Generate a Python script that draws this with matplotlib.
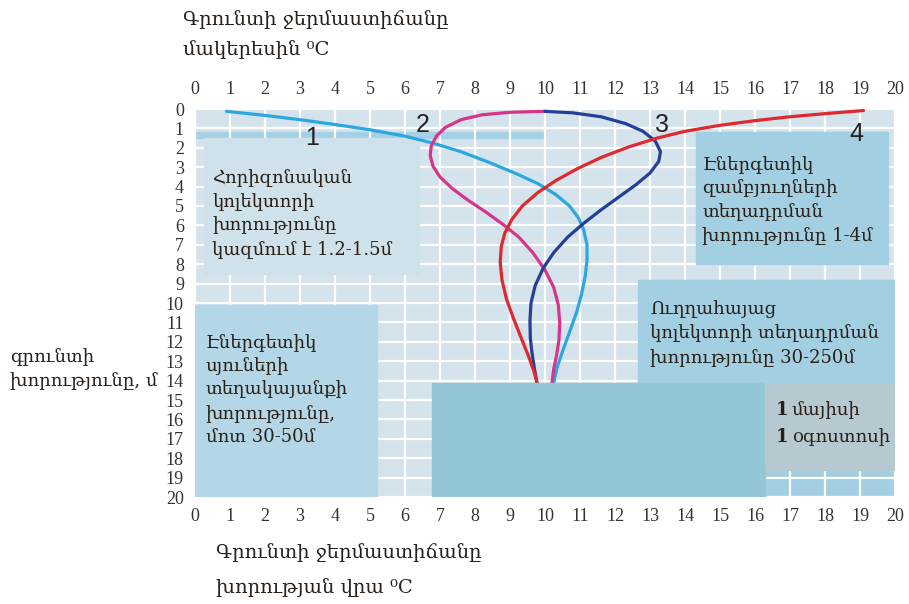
import matplotlib
matplotlib.use("Agg")
import matplotlib.pyplot as plt
from matplotlib.patches import Rectangle

# --- données (température en °C, profondeur en m) ---
x_may = [0.9, 2.0, 3.0, 4.0, 5.0, 6.0, 6.8, 7.6, 8.4, 9.2, 9.8, 10.3, 10.7, 10.95,
         11.1, 11.2, 11.2, 11.15, 11.05, 10.9, 10.7, 10.5, 10.35, 10.25]
y_may = [0.12, 0.33, 0.55, 0.8, 1.07, 1.4, 1.76, 2.2, 2.75, 3.35, 3.85, 4.4, 5.0, 5.6,
         6.2, 7.0, 7.8, 8.6, 9.5, 10.5, 11.5, 12.5, 13.3, 14.1]

x_jun = [10.0, 9.0, 8.2, 7.6, 7.15, 6.9, 6.75, 6.72, 6.8, 7.0, 7.35, 7.8, 8.3, 8.8,
         9.25, 9.65, 10.0, 10.25, 10.38, 10.42, 10.4, 10.33, 10.25, 10.2]
y_jun = [0.12, 0.17, 0.3, 0.55, 0.95, 1.4, 1.9, 2.4, 2.95, 3.5, 4.1, 4.7, 5.3, 5.95,
         6.6, 7.4, 8.3, 9.2, 10.1, 11.0, 11.9, 12.7, 13.4, 14.1]

x_jul = [10.0, 10.8, 11.6, 12.3, 12.8, 13.15, 13.3, 13.25, 13.0, 12.6, 12.1, 11.6,
         11.1, 10.65, 10.25, 9.95, 9.72, 9.6, 9.57, 9.58, 9.63, 9.7, 9.77]
y_jul = [0.12, 0.2, 0.4, 0.75, 1.15, 1.65, 2.2, 2.7, 3.3, 3.9, 4.55, 5.2,
         5.9, 6.6, 7.4, 8.2, 9.1, 10.0, 10.9, 11.8, 12.6, 13.4, 14.1]

x_aug = [19.1, 18.0, 17.0, 16.0, 15.0, 14.0, 13.2, 12.4, 11.6, 10.9, 10.3, 9.8, 9.35,
         9.05, 8.85, 8.75, 8.72, 8.77, 8.9, 9.1, 9.32, 9.52, 9.68, 9.77]
y_aug = [0.08, 0.24, 0.4, 0.6, 0.84, 1.15, 1.5, 1.95, 2.5, 3.1, 3.7, 4.3, 5.0,
         5.7, 6.4, 7.1, 7.9, 8.8, 9.8, 10.8, 11.8, 12.7, 13.5, 14.1]

courbes = [(x_may, y_may, '#2aa8df', '1'),
           (x_jun, y_jun, '#d8348b', '2'),
           (x_jul, y_jul, '#233f97', '3'),
           (x_aug, y_aug, '#e0292e', '4')]

ticks = list(range(0, 21))

plt.rcParams['font.family'] = ['Liberation Serif', 'DejaVu Serif']
ARM = ['DejaVu Serif', 'DejaVu Sans']
TXT = '#2a2018'
FS = 13

fig = plt.figure(figsize=(9.09, 6.04), dpi=100)
ax = fig.add_axes([195 / 909, 1 - 497 / 604, 700 / 909, 388 / 604])
ax.set_xlim(0, 20)
ax.set_ylim(20, 0)
ax.set_facecolor('#d5e4ec')
ax.set_axisbelow(True)
ax.grid(True, color='white', linewidth=1.6)
for s in ax.spines.values():
    s.set_visible(False)

ax.set_xticks(ticks)
ax.set_yticks(ticks)
ax.tick_params(length=0, labelsize=13, colors='#333333', top=True, labeltop=True, pad=8)
ax.tick_params(axis='x', which='both', pad=8)

# bandes / cadres (sous la grille)
ax.add_patch(Rectangle((0, 1.2), 10, 0.32, color='#a6d0e4', zorder=0.3))
ax.add_patch(Rectangle((16.3, 18.6), 3.7, 1.4, color='#a4cfe2', zorder=0.3))

# cadres de texte (au-dessus de la grille)
ax.add_patch(Rectangle((0.25, 1.52), 6.15, 7.0, color='#cfe1ea', zorder=1))
ax.add_patch(Rectangle((14.3, 1.2), 5.5, 6.8, color='#a3cfe2', zorder=1))
ax.add_patch(Rectangle((12.66, 8.8), 7.34, 5.3, color='#a3cfe2', zorder=1))
ax.add_patch(Rectangle((0, 10.1), 5.2, 9.9, color='#b4d7e7', zorder=1))
ax.add_patch(Rectangle((6.77, 14.1), 9.53, 5.9, color='#93c7d5', zorder=4))
ax.add_patch(Rectangle((16.3, 14.1), 3.7, 4.5, color='#b6c8d0', zorder=4))

for x, y, c, lab in courbes:
    ax.plot(x, y, color=c, linewidth=2.3, zorder=3, solid_capstyle='round',
            solid_joinstyle='round')

# numéros des courbes
for lab, (tx, ty) in zip('1234', [(3.34, 1.5), (6.5, 0.82), (13.35, 0.82), (18.9, 1.3)]):
    ax.text(tx, ty, lab, fontsize=18, family='Liberation Sans', color='#222222',
            ha='center', va='center', zorder=5)

# textes des cadres
ax.text(0.5, 5.39, 'Հորիզոնական\nկոլեկտորի\nխորությունը\nկազմում է 1.2-1.5մ', family=ARM,
        fontsize=FS, color=TXT, va='center', ha='left', linespacing=1.4, zorder=5)
ax.text(14.5, 4.69, 'Էներգետիկ\nզամբյուղների\nտեղադրման\nխորությունը 1-4մ', family=ARM,
        fontsize=FS, color=TXT, va='center', ha='left', linespacing=1.4, zorder=5)
ax.text(0.3, 14.48, 'Էներգետիկ\nսյուների\nտեղակայանքի\nխորությունը,\nմոտ 30-50մ', family=ARM,
        fontsize=FS, color=TXT, va='center', ha='left', linespacing=1.4, zorder=5)
ax.text(13.0, 11.55, 'Ուղղահայաց\nկոլեկտորի տեղադրման\nխորությունը 30-250մ', family=ARM,
        fontsize=FS, color=TXT, va='center', ha='left', linespacing=1.4, zorder=5)
ax.text(16.6, 15.52, '1', family=ARM, fontsize=FS, fontweight='bold', color=TXT, va='center', zorder=5)
ax.text(17.05, 15.52, 'մայիսի', family=ARM, fontsize=FS, color=TXT, va='center', zorder=5)
ax.text(16.6, 16.9, '1', family=ARM, fontsize=FS, fontweight='bold', color=TXT, va='center', zorder=5)
ax.text(17.05, 16.9, 'օգոստոսի', family=ARM, fontsize=FS, color=TXT, va='center', zorder=5)

# titres
fig.text(183 / 909, 1 - 20 / 604, 'Գրունտի ջերմաստիճանը', family=ARM, fontsize=14,
         color=TXT, va='center', ha='left')
fig.text(183 / 909, 1 - 50 / 604, 'մակերեսին ⁰C', family=ARM, fontsize=14,
         color=TXT, va='center', ha='left')
fig.text(216 / 909, 1 - 553 / 604, 'Գրունտի ջերմաստիճանը', family=ARM, fontsize=14,
         color=TXT, va='center', ha='left')
fig.text(216 / 909, 1 - 588 / 604, 'խորության վրա ⁰C', family=ARM, fontsize=14,
         color=TXT, va='center', ha='left')
fig.text(10 / 909, 1 - 357 / 604, 'գրունտի', family=ARM, fontsize=13,
         color=TXT, va='center', ha='left')
fig.text(10 / 909, 1 - 381 / 604, 'խորությունը, մ', family=ARM, fontsize=13,
         color=TXT, va='center', ha='left')

fig.savefig('out.png', dpi=100, facecolor='white')
